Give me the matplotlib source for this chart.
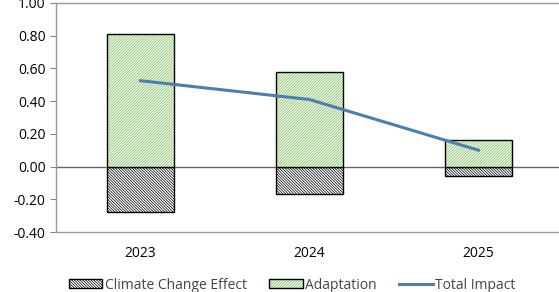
import matplotlib.pyplot as plt
import numpy as np

years = ["2023", "2024", "2025"]
climate = [-0.28, -0.165, -0.06]
adaptation = [0.81, 0.58, 0.165]
total = [0.525, 0.41, 0.10]

plt.rcParams['font.family'] = ['Open Sans', 'DejaVu Sans']
plt.rcParams['hatch.linewidth'] = 0.5

fig = plt.figure(figsize=(5.59, 2.92), dpi=100)
ax = fig.add_axes([56 / 559, 60 / 292, 507 / 559, 229 / 292])

x = np.arange(len(years))
plt.rcParams['hatch.color'] = 'black'
b1 = ax.bar(x, climate, width=0.4, color='white', edgecolor='black', hatch='\\' * 12,
            linewidth=1.0, label='Climate Change Effect', zorder=2)
b2 = ax.bar(x, adaptation, width=0.4, color='#f4faef', edgecolor='black', hatch='/' * 12,
            linewidth=1.0, label='Adaptation', zorder=2)
for p in b2:
    p._hatch_color = (0.5, 0.74, 0.38, 1.0)
line, = ax.plot(x, total, color='#4a7fb0', linewidth=2.2, label='Total Impact', zorder=3)

ax.axhline(0, color='#666666', linewidth=1.0, zorder=1)
ax.set_xlim(-0.5, 2.5)
ax.set_ylim(-0.4, 1.0)
ax.set_yticks(np.arange(-0.4, 1.01, 0.2))
ax.set_yticklabels([f"{v:.2f}" for v in np.arange(-0.4, 1.01, 0.2)])
ax.set_xticks(x)
ax.set_xticklabels(years)
ax.tick_params(axis='x', length=0, pad=10, labelsize=10)
ax.tick_params(axis='y', length=4, color='#888888', labelsize=10)
for s in ax.spines.values():
    s.set_color('#999999')
    s.set_linewidth(1.0)

fig.legend(handles=[b1, b2, line], loc='lower center', bbox_to_anchor=(0.523, -0.045), ncol=3,
           frameon=False, fontsize=10, handlelength=2.4, handleheight=0.6, handletextpad=0.2,
           columnspacing=1.6, labelcolor='#444444')

fig.savefig('out.png', dpi=100)
